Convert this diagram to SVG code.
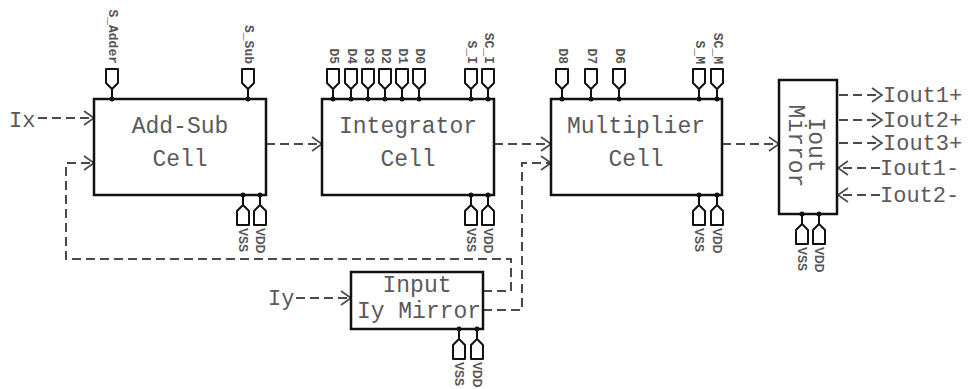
<svg xmlns="http://www.w3.org/2000/svg" xmlns:xlink="http://www.w3.org/1999/xlink" width="969" height="389" viewBox="0 0 969 389">
<style>
.box{fill:#fff;stroke:#111;stroke-width:2.5}
.lbl{font-family:"Liberation Mono","DejaVu Sans Mono",monospace;font-size:23px;fill:#5a5a5a;text-anchor:middle}
.io{font-family:"Liberation Mono","DejaVu Sans Mono",monospace;font-size:22px;fill:#5a5a5a}
.pl{font-family:"Liberation Mono","DejaVu Sans Mono",monospace;font-size:13px;font-weight:bold;fill:#555;dominant-baseline:central}
.pw{font-family:"Liberation Sans",Arial,sans-serif;font-size:12px;font-weight:bold;fill:#555;dominant-baseline:central}
.pin{fill:none;stroke:#111;stroke-width:2;stroke-linejoin:round}
.dot{fill:#111}
.dash{fill:none;stroke:#4a4a4a;stroke-width:2;stroke-dasharray:9 5}
</style>
<defs>
<g id="pinT"><path class="pin" d="M0,0 V-10 L6,-16 V-30 H-6 V-16 L0,-10"/><circle class="dot" cx="0" cy="0" r="2.5"/></g>
<g id="pinB"><path class="pin" d="M0,0 V10 L6,16 V30 H-6 V16 L0,10"/><circle class="dot" cx="0" cy="0" r="2.5"/></g>
<marker id="chev" markerUnits="userSpaceOnUse" markerWidth="14" markerHeight="16" refX="12" refY="8" orient="auto" viewBox="0 0 14 16">
<path d="M2,1 L12,8 L2,15" fill="none" stroke="#4a4a4a" stroke-width="1.7"/>
</marker>
</defs>

<g id="connectors">
<text class="io" x="9" y="127">Ix</text>
<path class="dash" d="M38,118 H94" marker-end="url(#chev)"/>
<path class="dash" d="M266,144 H322" marker-end="url(#chev)"/>
<path class="dash" d="M494,144 H551" marker-end="url(#chev)"/>
<path class="dash" d="M722,144 H779" marker-end="url(#chev)"/>
<text class="io" x="268" y="305">Iy</text>
<path class="dash" d="M296,298 H351" marker-end="url(#chev)"/>
<path class="dash" d="M483,291 H511 V259 H66 V163 H94" marker-end="url(#chev)"/>
<path class="dash" d="M483,310 H522 V163 H551" marker-end="url(#chev)"/>
<path class="dash" d="M839,95 H882" marker-end="url(#chev)"/>
<path class="dash" d="M839,120 H882" marker-end="url(#chev)"/>
<path class="dash" d="M839,143 H882" marker-end="url(#chev)"/>
<path class="dash" d="M880,168 H838" marker-end="url(#chev)"/>
<path class="dash" d="M880,195 H838" marker-end="url(#chev)"/>
<text class="io" x="883" y="102">Iout1+</text>
<text class="io" x="883" y="127">Iout2+</text>
<text class="io" x="883" y="150">Iout3+</text>
<text class="io" x="880" y="175">Iout1-</text>
<text class="io" x="880" y="202">Iout2-</text>
</g>

<g id="addsub">
<rect class="box" x="94" y="99" width="172" height="96"/>
<text class="lbl" x="180" y="133">Add-Sub</text>
<text class="lbl" x="180" y="166">Cell</text>
<use xlink:href="#pinT" x="112" y="99"/><text class="pl" text-anchor="end" transform="translate(112,64) rotate(90)">S_Adder</text>
<use xlink:href="#pinT" x="248" y="99"/><text class="pl" text-anchor="end" transform="translate(248,64) rotate(90)">S_Sub</text>
<use xlink:href="#pinB" x="243" y="195"/><text class="pw" transform="translate(243,228) rotate(90)">VSS</text>
<use xlink:href="#pinB" x="260" y="195"/><text class="pw" transform="translate(260,228) rotate(90)">VDD</text>
</g>

<g id="integrator">
<rect class="box" x="322" y="99" width="172" height="96"/>
<text class="lbl" x="408" y="133">Integrator</text>
<text class="lbl" x="408" y="166">Cell</text>
<use xlink:href="#pinT" x="333" y="99"/><text class="pl" text-anchor="end" transform="translate(333,64) rotate(90)">D5</text>
<use xlink:href="#pinT" x="351" y="99"/><text class="pl" text-anchor="end" transform="translate(351,64) rotate(90)">D4</text>
<use xlink:href="#pinT" x="368" y="99"/><text class="pl" text-anchor="end" transform="translate(368,64) rotate(90)">D3</text>
<use xlink:href="#pinT" x="385" y="99"/><text class="pl" text-anchor="end" transform="translate(385,64) rotate(90)">D2</text>
<use xlink:href="#pinT" x="402" y="99"/><text class="pl" text-anchor="end" transform="translate(402,64) rotate(90)">D1</text>
<use xlink:href="#pinT" x="419" y="99"/><text class="pl" text-anchor="end" transform="translate(419,64) rotate(90)">D0</text>
<use xlink:href="#pinT" x="471" y="99"/><text class="pl" text-anchor="end" transform="translate(471,64) rotate(90)">S_I</text>
<use xlink:href="#pinT" x="488" y="99"/><text class="pl" text-anchor="end" transform="translate(488,64) rotate(90)">SC_I</text>
<use xlink:href="#pinB" x="471" y="195"/><text class="pw" transform="translate(471,228) rotate(90)">VSS</text>
<use xlink:href="#pinB" x="488" y="195"/><text class="pw" transform="translate(488,228) rotate(90)">VDD</text>
</g>

<g id="multiplier">
<rect class="box" x="551" y="99" width="171" height="96"/>
<text class="lbl" x="636" y="133">Multiplier</text>
<text class="lbl" x="636" y="166">Cell</text>
<use xlink:href="#pinT" x="562" y="99"/><text class="pl" text-anchor="end" transform="translate(562,64) rotate(90)">D8</text>
<use xlink:href="#pinT" x="591" y="99"/><text class="pl" text-anchor="end" transform="translate(591,64) rotate(90)">D7</text>
<use xlink:href="#pinT" x="619" y="99"/><text class="pl" text-anchor="end" transform="translate(619,64) rotate(90)">D6</text>
<use xlink:href="#pinT" x="699" y="99"/><text class="pl" text-anchor="end" transform="translate(699,64) rotate(90)">S_M</text>
<use xlink:href="#pinT" x="717" y="99"/><text class="pl" text-anchor="end" transform="translate(717,64) rotate(90)">SC_M</text>
<use xlink:href="#pinB" x="699" y="195"/><text class="pw" transform="translate(699,228) rotate(90)">VSS</text>
<use xlink:href="#pinB" x="717" y="195"/><text class="pw" transform="translate(717,228) rotate(90)">VDD</text>
</g>

<g id="ioutmirror">
<rect class="box" x="779" y="80" width="58" height="134"/>
<text class="lbl" transform="translate(809,145) rotate(90)">Iout</text>
<text class="lbl" transform="translate(789,146) rotate(90)">Mirror</text>
<use xlink:href="#pinB" x="802" y="214"/><text class="pw" transform="translate(802,247) rotate(90)">VSS</text>
<use xlink:href="#pinB" x="819" y="214"/><text class="pw" transform="translate(819,247) rotate(90)">VDD</text>
</g>

<g id="iymirror">
<rect class="box" x="351" y="272" width="132" height="57"/>
<text class="lbl" x="417" y="292">Input</text>
<text class="lbl" x="419" y="318">Iy Mirror</text>
<use xlink:href="#pinB" x="459" y="329"/><text class="pw" transform="translate(459,362) rotate(90)">VSS</text>
<use xlink:href="#pinB" x="477" y="329"/><text class="pw" transform="translate(477,362) rotate(90)">VDD</text>
</g>
</svg>
